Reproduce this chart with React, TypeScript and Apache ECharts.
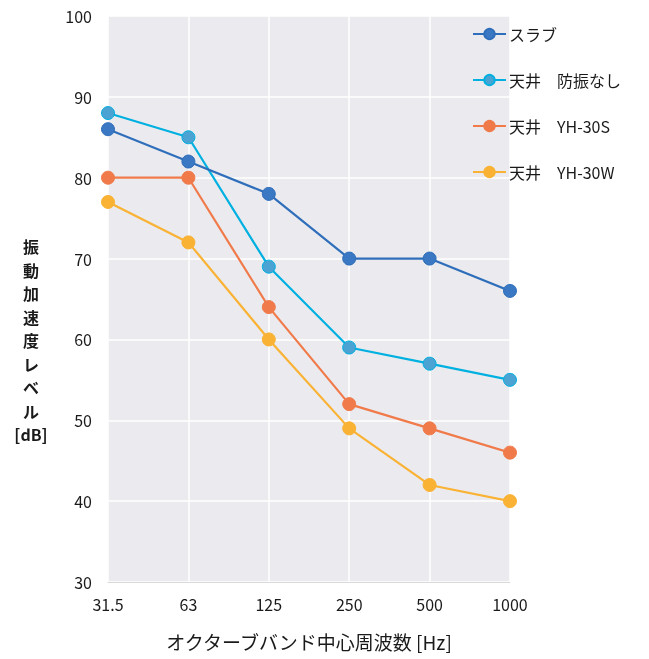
import React, { useEffect, useRef } from "react";
import * as echarts from "echarts";

const categories = ["31.5", "63", "125", "250", "500", "1000"];
const seriesNames = ["スラブ", "天井　防振なし", "天井　YH-30S", "天井　YH-30W"];
const slab = [86, 82, 78, 70, 70, 66];
const noIsolation = [88, 85, 69, 59, 57, 55];
const yh30s = [80, 80, 64, 52, 49, 46];
const yh30w = [77, 72, 60, 49, 42, 40];
const yTitleChars = ["振", "動", "加", "速", "度", "レ", "ベ", "ル", "[dB]"];
const lineColors = ["#2F6EBA", "#00B0E0", "#F07A4A", "#F9B233"];
const markerColors = ["#3B78C4", "#4AA3D2", "#F07A4A", "#F9B233"];

export default function App() {
  const ref = useRef<HTMLDivElement>(null);
  useEffect(() => {
    if (!ref.current) return;
    const chart = echarts.init(ref.current, null, { renderer: "svg" });
    const font = "'Noto Sans CJK JP', 'Noto Sans', sans-serif";
    const datas = [slab, noIsolation, yh30s, yh30w];
    chart.setOption({
      animation: false,
      textStyle: { fontFamily: font },
      grid: { left: 108, right: 139, top: 16, bottom: 77, show: true, backgroundColor: "#EBEBEF", borderWidth: 0 },
      legend: {
        orient: "vertical",
        left: 472,
        top: 26,
        padding: 0,
        itemWidth: 33,
        itemHeight: 13,
        itemGap: 30,
        textStyle: { fontSize: 16, color: "#1A1A1A", fontFamily: font, padding: [0, 0, 0, -2] },
        data: seriesNames,
      },
      xAxis: {
        type: "category",
        data: categories,
        boundaryGap: false,
        axisLine: { show: true, lineStyle: { color: "#D9D9D9", width: 1 } },
        axisTick: { show: false },
        axisLabel: { color: "#1A1A1A", fontSize: 16, margin: 14 },
        splitLine: { show: true, lineStyle: { color: "#FFFFFF", width: 1.5 } },
        name: "オクターブバンド中心周波数 [Hz]",
        nameLocation: "middle",
        nameGap: 50,
        nameTextStyle: { color: "#1A1A1A", fontSize: 19 },
      },
      yAxis: {
        type: "value",
        min: 30,
        max: 100,
        interval: 10,
        axisLine: { show: false },
        axisTick: { show: false },
        axisLabel: { color: "#1A1A1A", fontSize: 16, margin: 16 },
        splitLine: { show: true, lineStyle: { color: "#FFFFFF", width: 1.5 } },
      },
      graphic: yTitleChars.map((c, i) => ({
        type: "text",
        x: 31,
        y: 238 + i * 23.5,
        style: {
          text: c,
          fontSize: 16,
          fill: "#1A1A1A",
          fontFamily: font,
          align: "center",
          verticalAlign: "top",
          fontWeight: "bold",
        },
      })),
      series: datas.map((d, i) => ({
        name: seriesNames[i],
        type: "line",
        data: d,
        symbol: "circle",
        symbolSize: 13,
        lineStyle: { color: lineColors[i], width: 2.2 },
        itemStyle: { color: markerColors[i], borderColor: lineColors[i], borderWidth: 1 },
        z: 10 - i,
      })),
    });
    return () => chart.dispose();
  }, []);
  return <div ref={ref} style={{ position: "fixed", left: 0, top: 0, width: 649, height: 659 }} />;
}
